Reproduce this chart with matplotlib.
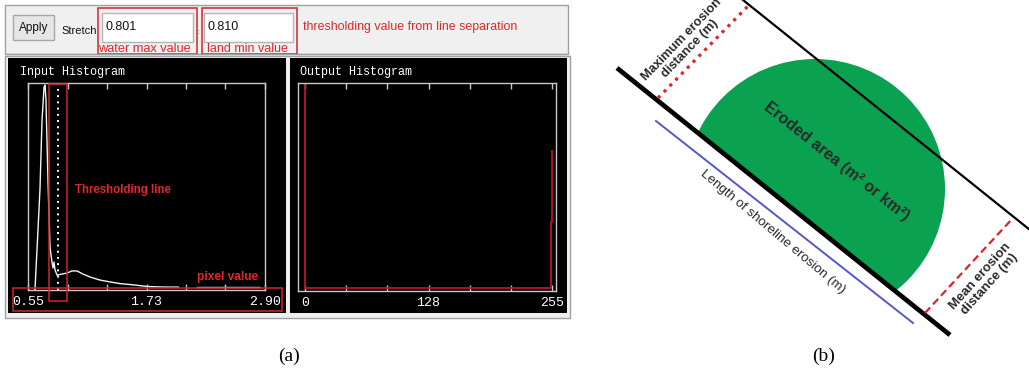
import numpy as np
import matplotlib
matplotlib.use("Agg")
import matplotlib.pyplot as plt
from matplotlib.patches import Rectangle, Circle, Polygon

W, H = 1029, 370

# ---------------- data: panel (a) ----------------
nan = float("nan")
in_pixel_value = [0.619, 0.649, 0.669, 0.689, 0.709, 0.719, 0.728, 0.748, 0.768,
                  0.778, 0.788, 0.798, 0.808, 0.818, 0.838, 0.887, 0.937, 0.986,
                  1.036, 1.095, 1.165, 1.264, 1.363, 1.462, 1.611, 1.730, 1.910,
                  2.040, nan, 2.230, 2.850]
in_frequency = [0.0, 0.29, 0.49, 0.82, 0.98, 0.99, 0.92, 0.53, 0.21,
                0.17, 0.135, 0.106, 0.135, 0.097, 0.072, 0.077, 0.082, 0.092,
                0.092, 0.077, 0.063, 0.048, 0.039, 0.031, 0.024, 0.017, 0.014,
                0.014, nan, 0.012, 0.012]
in_ticks = [0.55, 0.942, 1.333, 1.725, 2.117, 2.508, 2.90]
in_tick_labels = ["0.55", "", "", "1.73", "", "", "2.90"]
threshold_line = 0.85

out_level = [0, 0, 254, 254, 255, 255]
out_frequency = [1.3, 0.0, 0.0, 0.32, 0.32, 0.67]
out_ticks = [0, 42.5, 85, 127.5, 170, 212.5, 255]
out_tick_labels = ["0", "", "", "128", "", "", "255"]

water_max_value = "0.801"
land_min_value = "0.810"

# ---------------- geometry: panel (b) ----------------
shoreline = [(617, 68), (950, 335)]
offshore_line = [(735, -6.4), (1040, 238)]
length_line = [(656, 121), (913, 323)]
max_erosion_line = [(658, 98), (748, 6)]
mean_erosion_line = [(925, 313), (1013, 218)]
eroded_center, eroded_radius = (815, 189), 130

UI = ["Liberation Sans", "DejaVu Sans"]
MONO = ["Liberation Mono", "DejaVu Sans Mono"]
RED = "#e3262b"
RECT_RED = "#d0262b"

fig = plt.figure(figsize=(W / 100, H / 100), dpi=100)
fig.patch.set_facecolor("white")


def px_rect(l, t, r, b):
    return [l / W, 1 - b / H, (r - l) / W, (b - t) / H]


bg = fig.add_axes([0, 0, 1, 1])
bg.set_xlim(0, W)
bg.set_ylim(H, 0)
bg.axis("off")
bg.set_zorder(0)

# ---- panel (a) chrome ----
bg.add_patch(Rectangle((5, 5), 563, 49, facecolor="#f0f0f0", edgecolor="#a0a0a0", lw=1))
bg.add_patch(Rectangle((5, 56), 565, 262, facecolor="#f0f0f0", edgecolor="#a0a0a0", lw=1))
bg.add_patch(Rectangle((8, 58), 278, 255, facecolor="black", edgecolor="none"))
bg.add_patch(Rectangle((290, 58), 277, 255, facecolor="black", edgecolor="none"))

bg.add_patch(Rectangle((13, 15), 41, 25, facecolor="#e6e6e6", edgecolor="#a8a8a8", lw=1))
bg.text(33.5, 27.5, "Apply", family=UI, fontsize=8.5, color="#111", ha="center", va="center")
bg.text(61, 31, "Stretch", family=UI, fontsize=8, color="#111", ha="left", va="center")
bg.add_patch(Rectangle((102, 13), 91, 29, facecolor="white", edgecolor="#b4b4b4", lw=1))
bg.add_patch(Rectangle((204, 13), 89, 29, facecolor="white", edgecolor="#b4b4b4", lw=1))
bg.text(106, 27, water_max_value, family=UI, fontsize=9, color="#111", ha="left", va="center")
bg.text(208, 27, land_min_value, family=UI, fontsize=9, color="#111", ha="left", va="center")
bg.text(197, 33, ":", family=UI, fontsize=6, color="#444", ha="center", va="center")

bg.text(20, 72, "Input Histogram", family=MONO, fontsize=8.5, color="white", ha="left", va="center")
bg.text(300, 72, "Output Histogram", family=MONO, fontsize=8.5, color="white", ha="left", va="center")

# ---- histogram axes ----
ax_in = fig.add_axes(px_rect(28, 83, 265, 290))
ax_in.set_zorder(1)
ax_in.patch.set_alpha(0)
ax_in.plot(in_pixel_value, in_frequency, color="#f4f4f4", lw=1.0)
ax_in.axvline(threshold_line, color="white", lw=1.4, linestyle=(0, (1, 2.2)))
ax_in.set_xlim(0.55, 2.90)
ax_in.set_ylim(0, 1.0)

ax_out = fig.add_axes(px_rect(298, 83, 556, 291))
ax_out.set_zorder(1)
ax_out.patch.set_alpha(0)
ax_out.plot(out_level, out_frequency, color="#b8162c", lw=1.3)
ax_out.set_xlim(-7.2, 259.1)
ax_out.set_ylim(-0.0146, 1.0)

for ax, ticks, labels in ((ax_in, in_ticks, in_tick_labels), (ax_out, out_ticks, out_tick_labels)):
    ax.set_xticks(ticks)
    ax.set_xticklabels(labels)
    ax.set_yticks([])
    ax.tick_params(axis="x", direction="in", length=4, width=1, color="#c8c8c8",
                   top=True, bottom=True, labelcolor="white", labelsize=9.5, pad=4.5,
                   labelfontfamily="Liberation Mono")
    for sp in ax.spines.values():
        sp.set_color("#c8c8c8")
        sp.set_linewidth(1)

# ---- overlay (annotations & panel b) ----
ov = fig.add_axes([0, 0, 1, 1])
ov.set_xlim(0, W)
ov.set_ylim(H, 0)
ov.axis("off")
ov.set_zorder(2)

ov.add_patch(Rectangle((98, 8), 99, 46, facecolor="none", edgecolor=RECT_RED, lw=1.1))
ov.add_patch(Rectangle((202, 8), 95, 46, facecolor="none", edgecolor=RECT_RED, lw=1.1))
ov.plot([5, 568], [54, 54], color="#a0a0a0", lw=1)
ov.text(98, 49, "water max value", family=UI, fontsize=9.2, color=RED, ha="left", va="center")
ov.text(207, 49, "land min value", family=UI, fontsize=9, color=RED, ha="left", va="center")
ov.text(303, 27, "thresholding value from line separation", family=UI, fontsize=8.9,
        color=RED, ha="left", va="center")
ov.add_patch(Rectangle((49, 84), 18, 217, facecolor="none", edgecolor=RECT_RED, lw=1.1))
ov.add_patch(Rectangle((13, 288), 269, 23, facecolor="none", edgecolor=RECT_RED, lw=1.1))
ov.text(75, 190, "Thresholding line", family=UI, fontsize=8.3, color=RED,
        ha="left", va="center", fontweight="bold")
ov.text(197, 277, "pixel value", family=UI, fontsize=8.6, color=RED,
        ha="left", va="center", fontweight="bold")

# ---- panel (b) ----
(sx0, sy0), (sx1, sy1) = shoreline
slope = (sy1 - sy0) / (sx1 - sx0)
clip_poly = Polygon([(500, sy0 + slope * (500 - sx0)), (1100, sy0 + slope * (1100 - sx0)),
                     (1100, -100), (500, -100)], closed=True, transform=ov.transData)
disk = Circle(eroded_center, eroded_radius, facecolor="#0aa150", edgecolor="none")
ov.add_patch(disk)
disk.set_clip_path(clip_poly)

ov.plot(*zip(*offshore_line), color="black", lw=1.6, solid_capstyle="butt")
ov.plot(*zip(*shoreline), color="black", lw=3.4, solid_capstyle="butt")
ov.plot(*zip(*length_line), color="#5656cc", lw=1.4)
ov.plot(*zip(*max_erosion_line), color="#e0242a", lw=2.3, linestyle=(0, (1, 1.6)))
ov.plot(*zip(*mean_erosion_line), color="#e0242a", lw=1.6, linestyle=(0, (3.4, 1.9)))

DARK = "#2a2a2a"
ov.text(836, 161, "Eroded area (m² or km²)", family=UI,
        fontsize=11.5, fontweight="bold", color=DARK, rotation=-38.5,
        rotation_mode="anchor", ha="center", va="center")
ov.text(686, 44, "Maximum erosion\ndistance (m)", family=UI,
        fontsize=9.3, fontweight="bold", color=DARK, rotation=46, rotation_mode="anchor",
        ha="center", va="center", multialignment="center", linespacing=1.0)
ov.text(773, 232, "Length of shoreline erosion (m)", family=UI,
        fontsize=9.6, color=DARK, rotation=-40, rotation_mode="anchor",
        ha="center", va="center")
ov.text(985, 280, "Mean erosion\ndistance (m)", family=UI,
        fontsize=9.5, fontweight="bold", color=DARK, rotation=48, rotation_mode="anchor",
        ha="center", va="center", multialignment="center", linespacing=1.0)

# ---- captions ----
ov.text(289, 356, "(a)", family=["Liberation Serif", "DejaVu Serif"], fontsize=14,
        color="black", ha="center", va="center")
ov.text(824, 356, "(b)", family=["Liberation Serif", "DejaVu Serif"], fontsize=14,
        color="black", ha="center", va="center")

fig.savefig("out.png", dpi=100, facecolor="white")
